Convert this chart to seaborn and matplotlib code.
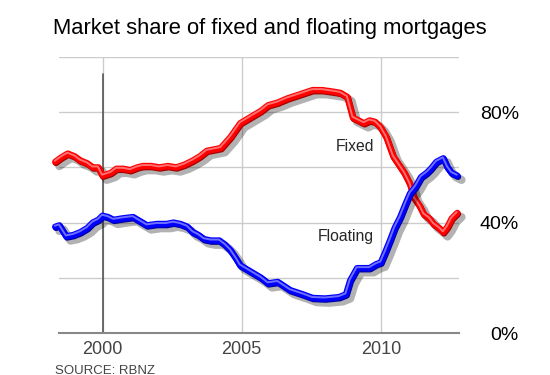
import pandas as pd
import matplotlib
matplotlib.use("Agg")
import matplotlib.pyplot as plt
import matplotlib.patheffects as pe
import seaborn as sns

sns.set_style("white")
plt.rcParams["font.family"] = ["Liberation Sans", "DejaVu Sans"]

# Values (year, % market share)
fixed_year = [1998.3, 1998.5, 1998.75, 1999.0, 1999.2, 1999.45, 1999.65, 1999.85, 2000.0,
              2000.15, 2000.3, 2000.5, 2000.75, 2001.0, 2001.25, 2001.45, 2001.75, 2002.05,
              2002.35, 2002.65, 2002.95, 2003.25, 2003.5, 2003.75, 2004.0, 2004.25, 2004.6,
              2004.95, 2005.2, 2005.45, 2005.7, 2005.95, 2006.3, 2006.65, 2006.95, 2007.25,
              2007.55, 2007.9, 2008.25, 2008.55, 2008.8, 2009.0, 2009.2, 2009.4, 2009.6,
              2009.8, 2010.0, 2010.2, 2010.45, 2010.65, 2010.85, 2011.05, 2011.2, 2011.4,
              2011.55, 2011.75, 2011.9, 2012.1, 2012.25, 2012.4, 2012.55, 2012.75]
fixed_pct = [62, 63.5, 65, 64, 62.5, 61.5, 60, 60, 57,
             57.5, 58, 59.5, 59.5, 59, 60, 60.5, 60.5, 60,
             60.5, 60, 61, 62.5, 64, 66, 66.5, 67, 71,
             76, 77.5, 79, 80.5, 82.5, 83.5, 85, 86, 87,
             88, 88, 87.5, 87, 85.5, 78, 77, 76, 77,
             76.5, 74.5, 71, 64, 61, 58, 54, 49, 46,
             43, 41.5, 39.5, 38, 36.5, 38.5, 41.5, 43.5]

float_year = [1998.3, 1998.45, 1998.7, 1998.95, 1999.2, 1999.45, 1999.65, 1999.85, 2000.0,
              2000.2, 2000.4, 2000.7, 2001.1, 2001.35, 2001.6, 2001.95, 2002.3, 2002.55,
              2002.8, 2003.05, 2003.25, 2003.45, 2003.65, 2003.9, 2004.2, 2004.4, 2004.6,
              2004.8, 2004.95, 2005.2, 2005.45, 2005.7, 2005.95, 2006.3, 2006.75, 2007.2,
              2007.55, 2008.0, 2008.5, 2008.75, 2008.9, 2009.15, 2009.35, 2009.6, 2009.85,
              2010.0, 2010.15, 2010.35, 2010.5, 2010.7, 2010.9, 2011.05, 2011.25, 2011.45,
              2011.65, 2011.8, 2012.0, 2012.25, 2012.4, 2012.55, 2012.75]
float_pct = [38.5, 39, 35, 35.5, 36.5, 38, 40, 41, 42.5,
             42, 41, 41.5, 42, 40.5, 39, 39.5, 39.5, 40,
             39.5, 38.5, 36.5, 35.5, 34, 33.5, 33.5, 32, 30,
             27, 24.5, 23, 21.5, 20, 18, 18.5, 15.5, 14,
             12.7, 12.5, 13, 14, 19, 23.5, 23.5, 23.5, 25,
             25.5, 29, 34, 38, 42, 47, 50.5, 53, 56.5,
             58, 59.5, 62, 63.3, 60, 58, 57]

df = pd.concat([
    pd.DataFrame({"year": fixed_year, "share": fixed_pct, "type": "Fixed"}),
    pd.DataFrame({"year": float_year, "share": float_pct, "type": "Floating"}),
])

fig = plt.figure(figsize=(5.5, 3.75), dpi=100)
ax = fig.add_axes([0.107, 0.112, 0.728, 0.736])

# grid
for y in [20, 40, 60, 80, 100]:
    ax.axhline(y, color="#cccccc", lw=1, zorder=0)
for x in [2000, 2005, 2010]:
    ax.axvline(x, color="#cccccc", lw=1, zorder=0)
ax.axvline(2000, ymin=0, ymax=0.94, color="#555555", lw=1.2, zorder=1)

sns.lineplot(data=df, x="year", y="share", hue="type",
             palette={"Fixed": "#ff0000", "Floating": "#0000ff"},
             linewidth=4.6, legend=False, ax=ax, sort=False,
             estimator=None, zorder=3)

darks = {0: "#a00000", 1: "#0000a0"}
lights = {0: "#ff7070", 1: "#7070ff"}
for i, line in enumerate(ax.get_lines()[-2:]):
    line.set_solid_capstyle("round")
    line.set_solid_joinstyle("round")
    line.set_clip_on(False)
    line.set_path_effects([
        pe.SimpleLineShadow(offset=(3, -3), shadow_color="black", alpha=0.3, linewidth=6),
        pe.Stroke(offset=(0.5, -0.8), linewidth=4.6, foreground=darks[i]),
        pe.Normal(),
        pe.Stroke(offset=(-0.4, 0.7), linewidth=1.4, foreground=lights[i]),
    ])

ax.set_xlim(1998.43, 2012.82)
ax.set_ylim(0, 100)

for s in ["top", "left", "right"]:
    ax.spines[s].set_visible(False)
ax.spines["bottom"].set_color("#888888")
ax.spines["bottom"].set_linewidth(1.5)

ax.set_xticks([2000, 2005, 2010])
ax.set_xticklabels(["2000", "2005", "2010"])
ax.tick_params(axis="x", length=0, pad=6, labelsize=13, labelcolor="#444444")

ax.yaxis.tick_right()
ax.set_yticks([0, 40, 80])
ax.set_yticklabels(["0%", "40%", "80%"])
ax.tick_params(axis="y", length=0, pad=43, labelsize=14, labelcolor="black")
for lab in ax.get_yticklabels():
    lab.set_horizontalalignment("right")

ax.set_xlabel("")
ax.set_ylabel("")

ax.text(2009.75, 67.4, "Fixed", ha="right", va="center", fontsize=11.3)
ax.text(2009.75, 34.8, "Floating", ha="right", va="center", fontsize=11.3)

fig.text(0.097, 0.925, "Market share of fixed and floating mortgages",
         ha="left", va="center", fontsize=15.8, color="black")
fig.text(0.1, 0.016, "SOURCE: RBNZ", ha="left", va="center_baseline",
         fontsize=9.5, color="#444444")

fig.savefig("out.png", dpi=100)
